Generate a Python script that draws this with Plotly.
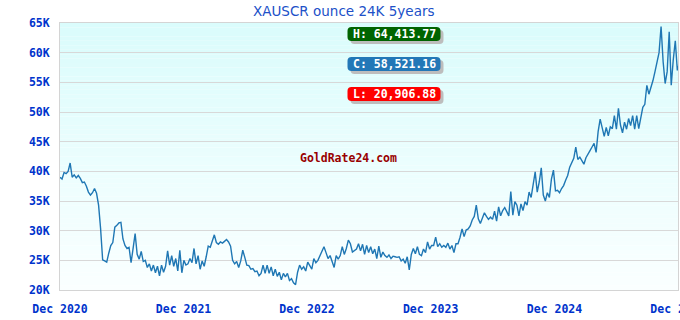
import plotly.graph_objects as go
import pandas as pd

# ---------------- data ----------------
start_date = "2020-12-01"
step_days = 6
rate_k = [
    39.0, 38.7, 39.8, 39.6, 40.0, 41.4, 39.0, 39.4, 38.9, 39.3,
    38.8, 38.1, 38.2, 37.5, 36.5, 36.0, 36.4, 37.1, 36.3, 34.3,
    30.3, 25.1, 24.9, 24.7, 26.2, 27.5, 28.0, 30.6, 30.9, 31.3,
    31.4, 28.6, 27.5, 27.0, 27.2, 24.6, 27.0, 29.5, 26.0, 25.2,
    26.5, 24.8, 25.0, 23.8, 24.4, 23.2, 24.2, 22.9, 24.0, 22.4,
    24.2, 23.0, 24.0, 26.6, 24.2, 25.8, 24.0, 25.3, 23.2, 26.7,
    22.9, 25.0, 24.2, 24.4, 25.3, 24.6, 27.0, 24.4, 25.8, 23.5,
    24.9, 24.0, 25.6, 27.4, 27.2, 28.2, 29.3, 28.0, 27.7, 28.1,
    27.9, 28.2, 28.5, 28.1, 27.4, 25.0, 24.4, 24.8, 23.8, 24.9,
    26.7, 25.5, 24.2, 24.1, 23.5, 23.6, 23.1, 23.2, 22.4, 22.8,
    24.2, 22.8, 24.2, 22.8, 23.9, 22.4, 23.5, 22.3, 23.0, 21.7,
    22.8, 22.2, 22.8, 21.6, 21.9, 21.2, 20.90688, 23.0, 24.2, 23.5,
    23.9, 23.2, 24.7, 24.1, 23.5, 25.3, 24.6, 25.0, 25.8, 26.7,
    27.3, 26.3, 25.3, 25.8, 24.6, 23.8, 25.8, 25.2, 25.8, 27.3,
    26.0, 27.0, 28.4, 27.8, 26.4, 26.7, 26.9, 27.8, 26.6, 27.7,
    26.0, 27.5, 26.3, 27.3, 26.1, 26.9, 25.3, 27.4, 25.5, 26.4,
    25.8, 25.5, 25.9, 25.3, 25.7, 25.6, 25.5, 25.6, 24.9, 25.2,
    24.5, 25.6, 23.4, 26.0, 27.0, 26.1, 27.3, 26.0, 25.8, 26.9,
    26.3, 28.1, 26.9, 27.5, 27.5, 28.9, 27.3, 27.8, 27.2, 27.5,
    27.2, 27.9, 26.9, 27.5, 26.3, 27.8, 27.8, 28.9, 30.3, 29.0,
    30.1, 30.3, 30.8, 31.8, 32.4, 34.3, 32.0, 31.2, 32.2, 33.0,
    32.4, 31.9, 32.3, 31.9, 33.3, 31.6, 34.0, 32.5, 33.4, 33.9,
    33.2, 32.5, 36.6, 32.6, 34.9, 34.3, 32.5, 34.5, 33.4, 34.9,
    34.3, 36.5, 35.6, 37.8, 39.9, 36.5, 38.2, 40.6, 36.0, 35.0,
    36.4, 35.6, 38.7, 40.2, 36.7, 36.8, 36.4, 37.1, 37.6, 38.5,
    39.3, 40.7, 41.5, 42.2, 44.1, 42.0, 42.4, 41.8, 41.2, 42.3,
    42.8, 43.5, 44.1, 44.7, 43.2, 46.7, 48.8, 47.2, 45.9, 47.4,
    46.0, 47.5, 47.2, 49.4, 47.1, 50.6, 47.8, 46.5, 48.3, 47.1,
    48.9, 47.7, 49.4, 47.1, 49.4, 47.2, 49.3, 50.8, 51.3, 54.5,
    53.0, 54.0, 55.3, 56.8, 58.5, 60.0, 64.41377, 58.5, 54.8, 56.8,
    63.5, 54.5, 58.8, 62.0, 57.0, 58.52116,
]
x_tick_vals = ["2020-12-01", "2021-12-01", "2022-12-01", "2023-12-01", "2024-12-01", "2025-12-01"]
x_tick_text = ["Dec 2020", "Dec 2021", "Dec 2022", "Dec 2023", "Dec 2024", "Dec 2025"]
y_tick_vals = [20000, 25000, 30000, 35000, 40000, 45000, 50000, 55000, 60000, 65000]
y_tick_text = ["20K", "25K", "30K", "35K", "40K", "45K", "50K", "55K", "60K", "65K"]
title_text = "XAUSCR ounce 24K 5years"
watermark = "GoldRate24.com"

rate = [v * 1000 for v in rate_k]
dates = [pd.Timestamp(start_date) + pd.Timedelta(days=step_days * i) for i in range(len(rate))]
hi, lo, cur = max(rate), min(rate), rate[-1]

# ---------------- layout helpers ----------------
L, R, T, B = 60, 2, 23, 30
W, H = 680, 320
PW, PH = W - L - R, H - T - B


def px_x(px):
    return (px - L) / PW


def px_y(py):
    return (H - B - py) / PH


mono = "DejaVu Sans Mono"
fig = go.Figure()
fig.add_trace(go.Scatter(x=dates, y=rate, mode="lines", line=dict(color="#1f77b4", width=1.4),
                         hoverinfo="skip", showlegend=False))

shapes = []
# vertical gradient background of the plot area
n = 60
top_c, bot_c = (218, 252, 252), (250, 255, 255)
for i in range(n):
    t = i / (n - 1)
    c = tuple(round(top_c[k] + (bot_c[k] - top_c[k]) * t) for k in range(3))
    shapes.append(dict(type="rect", xref="paper", yref="paper", x0=0, x1=1,
                       y0=1 - (i + 1) / n, y1=1 - i / n, line=dict(width=0),
                       fillcolor="rgb(%d,%d,%d)" % c, layer="below"))


def rrect(w, h, r):
    a, b = w / 2, h / 2
    return (f"M {-a + r},{-b} L {a - r},{-b} Q {a},{-b} {a},{-b + r} L {a},{b - r} Q {a},{b} {a - r},{b} "
            f"L {-a + r},{b} Q {-a},{b} {-a},{b - r} L {-a},{-b + r} Q {-a},{-b} {-a + r},{-b} Z")


annotations = []
boxes = [(f"H: {hi:,.2f}", "#006400", 34), (f"C: {cur:,.2f}", "#2277b7", 64), (f"L: {lo:,.2f}", "#ff0000", 94)]
cx = 394
for txt, col, cy in boxes:
    shapes.append(dict(type="path", xref="paper", yref="paper", xsizemode="pixel", ysizemode="pixel",
                       xanchor=px_x(cx + 3), yanchor=px_y(cy + 3), path=rrect(93, 14, 4),
                       fillcolor="#bdbdbd", line=dict(width=0), layer="above"))
    shapes.append(dict(type="path", xref="paper", yref="paper", xsizemode="pixel", ysizemode="pixel",
                       xanchor=px_x(cx), yanchor=px_y(cy), path=rrect(93, 14, 4),
                       fillcolor=col, line=dict(width=0), layer="above"))
    annotations.append(dict(text=txt, xref="paper", yref="paper", x=px_x(cx), y=px_y(cy), showarrow=False,
                            xanchor="center", yanchor="middle",
                            font=dict(family=mono, size=11.5, color="white", weight="bold")))

annotations.append(dict(text=watermark, xref="paper", yref="paper", x=px_x(348), y=px_y(157.5), showarrow=False,
                        xanchor="center", yanchor="middle",
                        font=dict(family=mono, size=11.5, color="#990000", weight="bold")))
annotations.append(dict(text=title_text, xref="paper", yref="paper", x=px_x(344), y=px_y(11), showarrow=False,
                        xanchor="center", yanchor="middle",
                        font=dict(family="DejaVu Sans", size=13.5, color="#2050c8")))

axis_font = dict(family=mono, size=11.5, color="#0033cc", weight="bold")
fig.update_layout(
    width=W, height=H, autosize=False,
    margin=dict(l=L, r=R, t=T, b=B, pad=0, autoexpand=False),
    paper_bgcolor="white", plot_bgcolor="white",
    shapes=shapes, annotations=annotations,
    xaxis=dict(type="date", range=[x_tick_vals[0], x_tick_vals[-1]], tickvals=x_tick_vals, ticktext=x_tick_text,
               showgrid=False, zeroline=False, showline=True, mirror=True, linecolor="#d4d4d4", linewidth=1,
               tickfont=axis_font, ticks="", ticklabelstandoff=8, ticklabeloverflow="allow",
               automargin=False, fixedrange=True),
    yaxis=dict(range=[20000, 65000], tickvals=y_tick_vals, ticktext=y_tick_text,
               showgrid=True, gridcolor="#d8d8d8", gridwidth=1, zeroline=False, showline=True, mirror=True,
               linecolor="#d4d4d4", linewidth=1, tickfont=axis_font, ticks="", ticklabelstandoff=7,
               automargin=False, fixedrange=True),
)

fig.write_html("out.html")
